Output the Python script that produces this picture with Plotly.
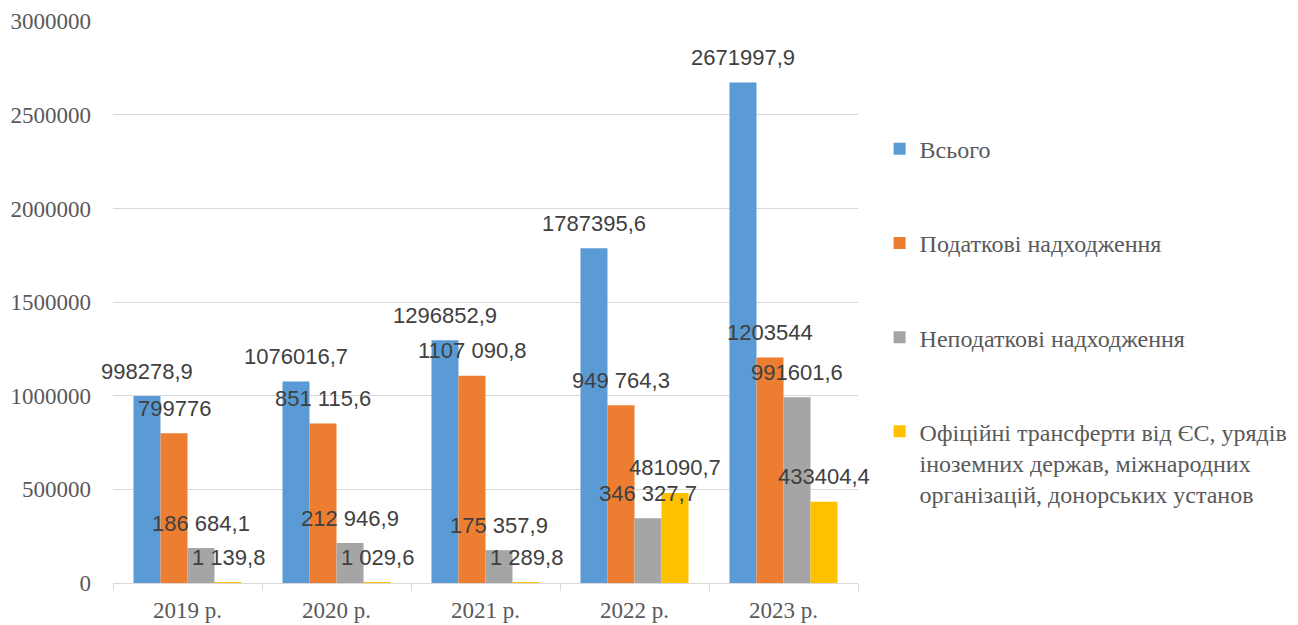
import plotly.graph_objects as go

categories = ["2019 р.", "2020 р.", "2021 р.", "2022 р.", "2023 р."]
series_names = [
    "Всього",
    "Податкові надходження",
    "Неподаткові надходження",
    "Офіційні трансферти від ЄС, урядів<br>іноземних держав, міжнародних<br>організацій, донорських установ",
]
total = [998278.9, 1076016.7, 1296852.9, 1787395.6, 2671997.9]
tax = [799776, 851115.6, 1107090.8, 949764.3, 1203544]
nontax = [186684.1, 212946.9, 175357.9, 346327.7, 991601.6]
transfers = [1139.8, 1029.6, 1289.8, 481090.7, 433404.4]

total_labels = ["998278,9", "1076016,7", "1296852,9", "1787395,6", "2671997,9"]
tax_labels = ["799776", "851 115,6", "1107 090,8", "949 764,3", "1203544"]
nontax_labels = ["186 684,1", "212 946,9", "175 357,9", "346 327,7", "991601,6"]
transfer_labels = ["1 139,8", "1 029,6", "1 289,8", "481090,7", "433404,4"]

colors = ["#5B9BD5", "#ED7D31", "#A5A5A5", "#FFC000"]
y_ticks = [0, 500000, 1000000, 1500000, 2000000, 2500000, 3000000]

values = [total, tax, nontax, transfers]
labels = [total_labels, tax_labels, nontax_labels, transfer_labels]

BARGAP = 0.275
n_series = len(values)
bar_w = (1 - BARGAP) / n_series

fig = go.Figure()
for j, (name, vals, col) in enumerate(zip(series_names, values, colors)):
    fig.add_trace(go.Bar(
        x=categories, y=vals, name=name,
        marker=dict(color=col, line=dict(width=0)),
        legendgroup=f"g{j}",
        hoverinfo="y+name",
    ))

annotations = []
for j in range(n_series):
    for i, (v, lab) in enumerate(zip(values[j], labels[j])):
        annotations.append(dict(
            x=i + (j - (n_series - 1) / 2) * bar_w, y=v, xref="x", yref="y",
            text=lab, showarrow=False, yanchor="middle", yshift=25,
            font=dict(family="Liberation Sans, Arial, sans-serif", size=22, color="#404040"),
        ))

fig.update_layout(
    width=1298, height=625,
    margin=dict(l=105, r=448, t=13, b=50, autoexpand=False),
    paper_bgcolor="white", plot_bgcolor="white",
    barmode="group", bargap=BARGAP, bargroupgap=0,
    annotations=annotations,
    showlegend=True,
    legend=dict(
        x=1.029, xanchor="left", y=0.812, yanchor="top",
        font=dict(family="Liberation Serif, Times New Roman, serif", size=24, color="#595959"),
        tracegroupgap=60, valign="top", bgcolor="rgba(0,0,0,0)",
    ),
    xaxis=dict(
        type="category", range=[-0.5, len(categories) - 0.5],
        showgrid=False, showline=True, linecolor="#D9D9D9", linewidth=1,
        ticks="outside", tickson="boundaries", ticklen=7, tickcolor="#D9D9D9",
        automargin=False, ticklabelstandoff=6,
        tickfont=dict(family="Liberation Serif, Times New Roman, serif", size=23, color="#595959"),
    ),
    yaxis=dict(
        range=[0, 3001000], tickvals=y_ticks, tickformat="d",
        showgrid=True, gridcolor="#D9D9D9", gridwidth=1, zeroline=False, showline=False,
        ticklabelstandoff=21, automargin=False, ticklabeloverflow="allow",
        tickfont=dict(family="Liberation Serif, Times New Roman, serif", size=23, color="#595959"),
    ),
)

fig.write_html("out.html")
